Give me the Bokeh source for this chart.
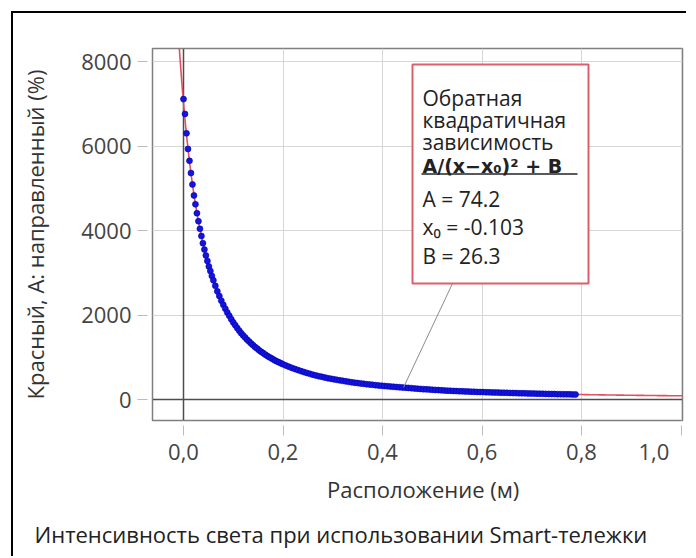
import numpy as np
from bokeh.plotting import figure
from bokeh.models import Span, BoxAnnotation, Label, FixedTicker
from bokeh.embed import file_html
from bokeh.resources import INLINE

# ---------------- data ----------------
position_m = [
    0.000, 0.003, 0.006, 0.009, 0.012, 0.015, 0.018, 0.021, 0.024, 0.027,
    0.030, 0.033, 0.036, 0.039, 0.042, 0.045, 0.048, 0.051, 0.054, 0.057,
    0.060, 0.064, 0.068, 0.072, 0.076, 0.080, 0.084, 0.088, 0.092, 0.096,
    0.100, 0.104, 0.108, 0.112, 0.116, 0.120, 0.124, 0.128, 0.132, 0.136,
    0.140, 0.144, 0.148, 0.152, 0.156, 0.160, 0.164, 0.168, 0.172, 0.176,
    0.180, 0.184, 0.188, 0.192, 0.196, 0.200,
    0.206, 0.212, 0.218, 0.224, 0.230, 0.236, 0.242, 0.248, 0.254, 0.260,
    0.266, 0.272, 0.278, 0.284, 0.290, 0.296, 0.302, 0.308, 0.314, 0.320,
    0.326, 0.332, 0.338, 0.344, 0.350, 0.356, 0.362, 0.368, 0.374, 0.380,
    0.386, 0.392, 0.398, 0.404, 0.410, 0.416, 0.422, 0.428, 0.434, 0.440,
    0.446, 0.452, 0.458, 0.464, 0.470, 0.476, 0.482, 0.488, 0.494, 0.500,
    0.506, 0.512, 0.518, 0.524, 0.530, 0.536, 0.542, 0.548, 0.554, 0.560,
    0.566, 0.572, 0.578, 0.584, 0.590, 0.596, 0.602, 0.608, 0.614, 0.620,
    0.626, 0.632, 0.638, 0.644, 0.650, 0.656, 0.662, 0.668, 0.674, 0.680,
    0.686, 0.692, 0.698, 0.704, 0.710, 0.716, 0.722, 0.728, 0.734, 0.740,
    0.746, 0.752, 0.758, 0.764, 0.770, 0.776, 0.782, 0.788,
]
red_pct = [
    7110, 6760, 6300, 5930, 5650, 5360, 5090, 4830, 4620, 4410,
    4220, 4040, 3870, 3700, 3550, 3410, 3280, 3150, 3040, 2925,
    2820, 2690, 2560, 2450, 2340, 2240, 2150, 2060, 1980, 1900,
    1825, 1760, 1690, 1630, 1570, 1515, 1465, 1415, 1370, 1325,
    1285, 1240, 1205, 1165, 1130, 1100, 1065, 1035, 1005, 980,
    952, 925, 902, 880, 856, 834,
    802, 775, 748, 722, 697, 672, 650, 628, 607, 588,
    570, 552, 536, 520, 505, 492, 478, 465, 453, 441,
    430, 418, 408, 398, 389, 380, 371, 362, 355, 347,
    340, 332, 326, 319, 313, 306, 301, 295, 289, 284,
    279, 274, 269, 262, 256, 250, 245, 240, 236, 231,
    226, 222, 218, 214, 210, 206, 203, 200, 196, 194,
    191, 188, 185, 182, 179, 177, 175, 172, 170, 168,
    166, 163, 161, 159, 157, 155, 153, 151, 149, 147,
    145, 144, 142, 140, 138, 137, 135, 133, 132, 130,
    129, 127, 126, 124, 123, 122, 120, 119,
]

# fit parameters shown in the annotation
fit_A = 74.2
fit_x0 = -0.103
fit_B = 26.3

x_ticks = [0.0, 0.2, 0.4, 0.6, 0.8, 1.0]
x_tick_labels = ["0,0", "0,2", "0,4", "0,6", "0,8", "1,0"]
y_ticks = [0, 2000, 4000, 6000, 8000]
y_tick_labels = ["0", "2000", "4000", "6000", "8000"]

title_text = "Интенсивность света при использовании Smart-тележки"
x_label = "Расположение (м)"
y_label = "Красный, A: направленный (%)"
fit_name_lines = ["Обратная", "квадратичная", "зависимость"]
fit_formula = "A/(x−x₀)² + B"
fit_param_lines = ["A  = 74.2", "x₀ = -0.103", "B  = 26.3"]

# ---------------- layout helpers (page pixel -> data) ----------------
FONT = "Open Sans"
NB = "\u00a0"
def px(xp):
    return (xp - 183.0) / 497.5
def py(yp):
    return (399.0 - yp) / 0.04225

p = figure(width=675, height=545,
           x_range=(px(152), px(682)), y_range=(py(420), py(48)),
           output_backend="svg", toolbar_location=None,
           min_border_left=139, min_border_right=6,
           min_border_top=35, min_border_bottom=138,
           background_fill_color="white", border_fill_color="white",
           outline_line_color="#7f7f7f", outline_line_width=1.5,
           title_location="below")
p.styles = {"border-left": "2px solid black", "border-top": "2px solid black",
            "margin-left": "11px", "margin-top": "11px"}

p.title.text = title_text
p.title.align = "left"
p.title.offset = -118
p.title.standoff = 20
p.title.text_font = FONT
p.title.text_font_size = "22px"
p.title.text_font_style = "normal"
p.title.text_color = "#222222"

p.xaxis.ticker = FixedTicker(ticks=x_ticks)
p.yaxis.ticker = FixedTicker(ticks=y_ticks)
xo = {t: l for t, l in zip(x_ticks, x_tick_labels)}
# last label is pushed inward (as in the original) by trailing no-break spaces
xo[x_ticks[-1]] = x_tick_labels[-1] + NB * 3
p.xaxis.major_label_overrides = xo
p.yaxis.major_label_overrides = {t: l for t, l in zip(y_ticks, y_tick_labels)}
p.xaxis.axis_label = NB * 2 + x_label
p.yaxis.axis_label = y_label

for ax in (p.xaxis[0], p.yaxis[0]):
    ax.axis_line_color = None
    ax.major_tick_in = -5
    ax.major_tick_out = 15
    ax.major_tick_line_color = "#bdbdbd"
    ax.minor_tick_line_color = None
    ax.major_label_text_font = FONT
    ax.major_label_text_font_size = "22px"
    ax.major_label_text_color = "#444444"
    ax.axis_label_text_font = FONT
    ax.axis_label_text_font_size = "22px"
    ax.axis_label_text_font_style = "normal"
    ax.axis_label_text_color = "#333333"
p.xaxis.major_label_standoff = 0
p.yaxis.major_label_standoff = 6
p.xaxis.axis_label_standoff = 5
p.yaxis.axis_label_standoff = 28

p.grid.grid_line_color = "#d6d6d6"
p.grid.grid_line_width = 1

p.add_layout(Span(location=0, dimension="height", line_color="#4d4d4d",
                  line_width=1.5, level="underlay"))
p.add_layout(Span(location=0, dimension="width", line_color="#4d4d4d",
                  line_width=1.5, level="underlay"))

# fit curve from the displayed parameters
xf = np.linspace(-0.0095, x_ticks[-1] + 0.004, 500)
yf = fit_A / (xf - fit_x0) ** 2 + fit_B
p.line(xf, yf, line_color="#e0505f", line_width=1.6)

p.scatter(position_m, red_pct, size=6, fill_color="#1414dc",
          line_color="#0000b4", line_width=0.6)

# leader line from the annotation box to the curve
p.segment(x0=px(452), y0=py(283), x1=px(403), y1=py(387),
          line_color="#8c8c8c", line_width=1)

# annotation box
p.add_layout(BoxAnnotation(left=px(412), right=px(588), top=py(64), bottom=py(283),
                           fill_color="white", fill_alpha=1.0,
                           line_color="#d9606a", line_width=2, line_alpha=1.0))

txt_x = px(422)
for t, yb in zip(fit_name_lines, [97, 119, 141]):
    p.add_layout(Label(x=txt_x, y=py(yb), text=t, text_font=FONT,
                       text_font_size="21px", text_color="#222222",
                       text_baseline="alphabetic"))
p.add_layout(Label(x=txt_x, y=py(165), text=fit_formula, text_font="DejaVu Sans",
                   text_font_size="19px", text_font_style="bold",
                   text_color="#222222", text_baseline="alphabetic"))
ul = p.segment(x0=px(421), y0=py(173.5), x1=px(577), y1=py(173.5),
               line_color="#222222", line_width=1.5)
ul.level = "overlay"
for t, yb in zip(fit_param_lines, [198, 226, 255]):
    p.add_layout(Label(x=txt_x, y=py(yb), text=t, text_font=FONT,
                       text_font_size="21px", text_color="#222222",
                       text_baseline="alphabetic"))

open("out.html", "w").write(file_html(p, INLINE))
